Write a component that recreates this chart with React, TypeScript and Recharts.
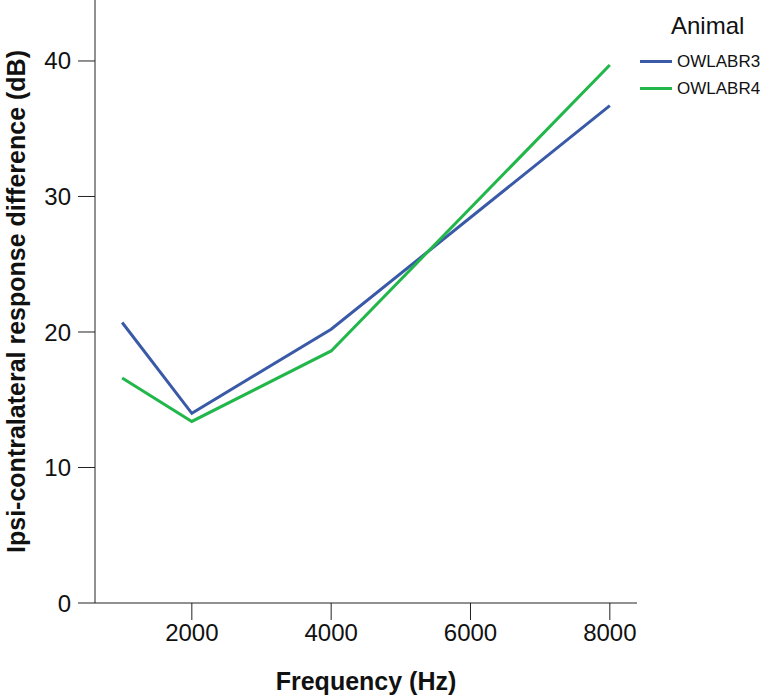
import React from "react";
import { LineChart, Line, XAxis, YAxis } from "recharts";

const frequencies = [1000, 2000, 4000, 8000];
const owlabr3 = [20.7, 14.0, 20.2, 36.7];
const owlabr4 = [16.6, 13.4, 18.6, 39.7];
const xTicks = [2000, 4000, 6000, 8000];
const yTicks = [0, 10, 20, 30, 40];

const seriesNames = ["OWLABR3", "OWLABR4"];
const seriesColors = ["#3a5aa8", "#22b74a"];

const data = frequencies.map((f, i) => ({
  freq: f,
  OWLABR3: owlabr3[i],
  OWLABR4: owlabr4[i],
}));

const FONT = "'Liberation Sans', Arial, sans-serif";

function AnimalLegend() {
  return (
    <div
      style={{
        position: "absolute",
        left: 640,
        top: 10,
        fontFamily: FONT,
        color: "#111",
      }}
    >
      <div style={{ fontSize: 24, marginLeft: 31, lineHeight: "32px", marginBottom: 6 }}>
        Animal
      </div>
      {seriesNames.map((name, i) => (
        <div key={name} style={{ display: "flex", alignItems: "center", height: 27 }}>
          <span
            style={{
              display: "inline-block",
              width: 32,
              height: 3,
              background: seriesColors[i],
              marginRight: 5,
            }}
          />
          <span style={{ fontSize: 17 }}>{name}</span>
        </div>
      ))}
    </div>
  );
}

export default function App() {
  return (
    <div style={{ position: "absolute", left: 0, top: 0, width: 776, height: 696, background: "#fff" }}>
      <LineChart
        width={776}
        height={696}
        data={data}
        margin={{ top: 0, right: 139, left: 0, bottom: 0 }}
      >
        <XAxis
          dataKey="freq"
          type="number"
          domain={[610, 8390]}
          ticks={xTicks}
          height={93}
          tickSize={17}
          tickMargin={4}
          stroke="#222"
          tick={{ fill: "#111", fontSize: 24, fontFamily: FONT }}
          label={{
            value: "Frequency (Hz)",
            position: "insideBottom",
            offset: 6,
            fill: "#111",
            fontSize: 25,
            fontWeight: "bold",
            fontFamily: FONT,
          }}
        />
        <YAxis
          type="number"
          domain={[0, 44.5]}
          ticks={yTicks}
          width={95}
          tickSize={17}
          tickMargin={7}
          stroke="#222"
          tick={{ fill: "#111", fontSize: 24, fontFamily: FONT }}
          label={{
            value: "Ipsi-contralateral response difference (dB)",
            angle: -90,
            position: "insideLeft",
            offset: 16,
            textAnchor: "middle",
            fill: "#111",
            fontSize: 25,
            fontWeight: "bold",
            fontFamily: FONT,
          }}
        />
        {seriesNames.map((name, i) => (
          <Line
            key={name}
            dataKey={name}
            stroke={seriesColors[i]}
            strokeWidth={3}
            dot={false}
            isAnimationActive={false}
          />
        ))}
      </LineChart>
      <AnimalLegend />
    </div>
  );
}
